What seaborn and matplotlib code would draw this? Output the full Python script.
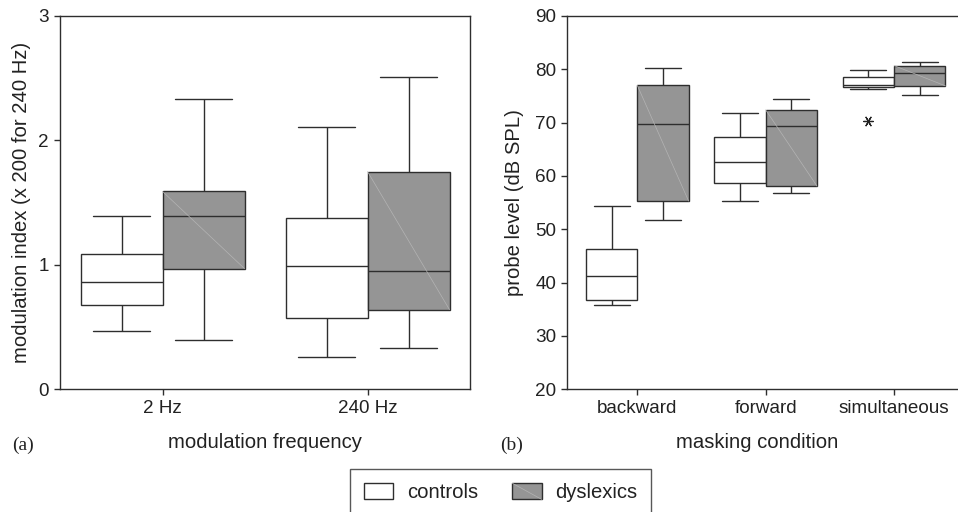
import numpy as np
import pandas as pd
import matplotlib
matplotlib.use("Agg")
import matplotlib.pyplot as plt
from matplotlib.patches import Patch, Rectangle
from matplotlib.lines import Line2D
from matplotlib.legend_handler import HandlerBase
import seaborn as sns

# ---------------- data (five-number summaries) -------------
groups = ["controls", "dyslexics"]

freq_cats = ["2 Hz", "240 Hz"]
# each entry: [lower whisker, Q1, median, Q3, upper whisker]
mod_controls = [[0.47, 0.68, 0.86, 1.09, 1.39],
                [0.26, 0.57, 0.99, 1.38, 2.11]]
mod_dyslexics = [[0.40, 0.97, 1.39, 1.59, 2.33],
                 [0.33, 0.64, 0.95, 1.75, 2.51]]

mask_cats = ["backward", "forward", "simultaneous"]
probe_controls = [[35.8, 36.8, 41.3, 46.3, 54.3],
                  [55.3, 58.6, 62.6, 67.4, 71.9],
                  [76.3, 76.6, 77.0, 78.5, 79.8]]
probe_dyslexics = [[51.8, 55.3, 69.8, 77.0, 80.3],
                   [56.8, 58.1, 69.3, 72.4, 74.4],
                   [75.2, 76.9, 79.3, 80.7, 81.4]]
# outlier (asterisk)
outlier_cat = ["simultaneous"]
outlier_group = ["controls"]
outlier_val = [70.3]

yticks_a = [0, 1, 2, 3]
yticks_b = [20, 30, 40, 50, 60, 70, 80, 90]

# ---------------- styling -------------
sns.set_theme(style="ticks")
plt.rcParams["font.family"] = ["Liberation Sans", "DejaVu Sans"]
TXT = "#222222"
EDGE = "#2e2e2e"
GRAY = "#959595"
STREAK = "#b4b4b4"
FS_TICK = 13.6
FS_LAB = 14.6
plt.rcParams.update({
    "axes.edgecolor": EDGE, "axes.linewidth": 1.0,
    "xtick.color": EDGE, "ytick.color": EDGE,
    "xtick.labelcolor": TXT, "ytick.labelcolor": TXT,
    "text.color": TXT, "axes.labelcolor": TXT,
})
palette = {"controls": "white", "dyslexics": GRAY}


def long_form(cats, ctrl, dys):
    rows = []
    for c, vals in zip(cats, ctrl):
        for v in vals:
            rows.append((c, "controls", v))
    for c, vals in zip(cats, dys):
        for v in vals:
            rows.append((c, "dyslexics", v))
    return pd.DataFrame(rows, columns=["cat", "group", "value"])


def draw(ax, df, cats):
    sns.boxplot(data=df, x="cat", y="value", hue="group", order=cats,
                hue_order=groups, palette=palette, whis=(0, 100),
                showfliers=False, width=0.8, gap=0, linecolor=EDGE,
                linewidth=1.0, capwidths=0.28, legend=False, ax=ax)
    # faint diagonal streak seen inside the gray boxes
    for p in list(ax.patches):
        fc = p.get_facecolor()
        if fc[0] < 0.8:
            ext = p.get_path().get_extents()
            ax.plot([ext.x0, ext.x1], [ext.y1, ext.y0], color=STREAK,
                    lw=0.5, zorder=p.get_zorder() + 0.1)


class StreakPatchHandler(HandlerBase):
    def create_artists(self, legend, orig_handle, xdescent, ydescent,
                       width, height, fontsize, trans):
        r = Rectangle((-xdescent, -ydescent), width, height,
                      facecolor=orig_handle.get_facecolor(),
                      edgecolor=orig_handle.get_edgecolor(),
                      linewidth=orig_handle.get_linewidth(), transform=trans)
        arts = [r]
        if orig_handle.get_facecolor()[0] < 0.8:
            ln = Line2D([-xdescent, -xdescent + width],
                        [-ydescent + height, -ydescent],
                        color=STREAK, lw=0.5, transform=trans)
            arts.append(ln)
        return arts


fig = plt.figure(figsize=(9.58, 5.12), dpi=100)
H = 512.0
W = 958.0
ax_a = fig.add_axes([60 / W, 1 - 389.3 / H, (470 - 60) / W, (389.3 - 16) / H])
ax_b = fig.add_axes([567.3 / W, 1 - 389.3 / H, (964 - 567.3) / W, (389.3 - 16) / H])

# panel (a)
draw(ax_a, long_form(freq_cats, mod_controls, mod_dyslexics), freq_cats)
ax_a.set_ylim(0, 3)
ax_a.set_yticks(yticks_a)
ax_a.set_xlim(-0.5, 1.5)
ax_a.set_xlabel("modulation frequency", fontsize=FS_LAB)
ax_a.set_ylabel("modulation index (x 200 for 240 Hz)", fontsize=FS_LAB, labelpad=5)

# panel (b)
draw(ax_b, long_form(mask_cats, probe_controls, probe_dyslexics), mask_cats)
odf = pd.DataFrame({"cat": outlier_cat, "group": outlier_group, "value": outlier_val})
sns.stripplot(data=odf, x="cat", y="value", hue="group", order=mask_cats,
              hue_order=groups, dodge=True, jitter=False,
              palette={"controls": "#222222", "dyslexics": "#222222"},
              marker=(6, 2, 90), s=7, linewidth=0.9, legend=False, ax=ax_b)
ax_b.set_ylim(20, 90)
ax_b.set_yticks(yticks_b)
ax_b.set_xlim(-0.545, 2.545)
ax_b.set_xlabel("masking condition", fontsize=FS_LAB)
ax_b.set_ylabel("probe level (dB SPL)", fontsize=FS_LAB, labelpad=8)

for ax in (ax_a, ax_b):
    for s in ax.spines.values():
        s.set_visible(True)
        s.set_color(EDGE)
    ax.tick_params(axis="both", labelsize=FS_TICK, length=4, width=1.0, direction="out", pad=4)
ax_a.xaxis.set_label_coords(0.5, -0.118)
ax_b.xaxis.set_label_coords((757.5 - 567.3) / (964 - 567.3), -0.118)

fig.text(12 / W, 1 - 445 / H, "(a)", family="Liberation Serif", fontsize=14, va="center", ha="left")
fig.text(500 / W, 1 - 445 / H, "(b)", family="Liberation Serif", fontsize=14, va="center", ha="left")

handles = [Patch(facecolor="white", edgecolor=EDGE, linewidth=1.0, label="controls"),
           Patch(facecolor=GRAY, edgecolor=EDGE, linewidth=1.0, label="dyslexics")]
leg = fig.legend(handles=handles, loc="upper center", bbox_to_anchor=(500.5 / W, 1 - 469 / H),
                 ncol=2, fontsize=FS_LAB, frameon=True, fancybox=False, edgecolor=EDGE,
                 handlelength=1.45, handleheight=0.85, handletextpad=0.65, columnspacing=1.7,
                 borderpad=0.7, borderaxespad=0,
                 handler_map={Patch: StreakPatchHandler()})
leg.get_frame().set_linewidth(1.0)

fig.savefig("out.png", dpi=100)
